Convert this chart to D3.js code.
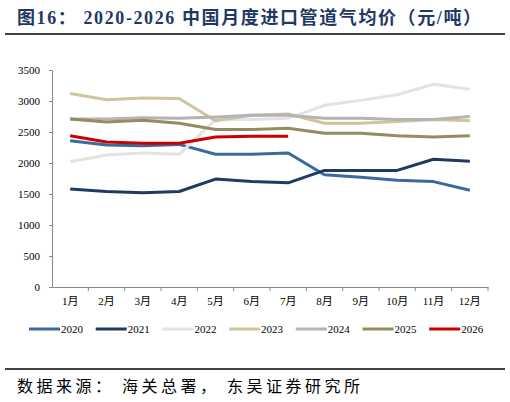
<!DOCTYPE html>
<html>
<head>
<meta charset="utf-8">
<script src="https://cdn.jsdelivr.net/npm/d3@7.9.0/dist/d3.min.js"></script>
<style>
  body { margin: 0; background: #fff; }
  text { font-family: "Liberation Serif", "Noto Sans CJK SC", serif; }
</style>
</head>
<body>
<svg id="chart" width="510" height="402"></svg>
<script>
// Data
const months = ['1月', '2月', '3月', '4月', '5月', '6月', '7月', '8月', '9月', '10月', '11月', '12月'];
const yTicks = [0, 500, 1000, 1500, 2000, 2500, 3000, 3500];
const years = ['2020', '2021', '2022', '2023', '2024', '2025', '2026'];
const s2020 = [2360, 2290, 2280, 2300, 2140, 2140, 2160, 1810, 1770, 1720, 1700, 1560];
const s2021 = [1580, 1540, 1520, 1540, 1740, 1700, 1680, 1880, 1880, 1880, 2060, 2030];
const s2022 = [2020, 2130, 2160, 2140, 2700, 2700, 2720, 2930, 3010, 3100, 3270, 3190];
const s2023 = [3120, 3020, 3050, 3040, 2680, 2770, 2790, 2640, 2640, 2670, 2700, 2680];
const s2024 = [2710, 2710, 2730, 2720, 2740, 2770, 2770, 2720, 2720, 2700, 2700, 2750];
const s2025 = [2710, 2660, 2690, 2640, 2540, 2540, 2560, 2480, 2480, 2440, 2420, 2440];
const s2026 = [2440, 2340, 2320, 2320, 2420, 2430, 2430];
const colors = ['#3b6aa0', '#1f3a63', '#e3e3e3', '#cfc59b', '#b4b4b4', '#958c5f', '#cc0000'];
const seriesList = [s2020, s2021, s2022, s2023, s2024, s2025, s2026];

const svg = d3.select('#chart');

// Title
svg.append('text')
  .attr('x', 17).attr('y', 24)
  .attr('font-size', 18).attr('font-weight', 'bold')
  .attr('letter-spacing', 1.6)
  .attr('fill', '#1f3864')
  .text('图16： 2020-2026 中国月度进口管道气均价（元/吨）');
svg.append('line').attr('x1', 5).attr('x2', 505).attr('y1', 34).attr('y2', 34)
  .attr('stroke', '#000').attr('stroke-width', 1.5);

// Scales
const x = d3.scaleBand().domain(months).range([52, 488]);
const y = d3.scaleLinear().domain([0, 3500]).range([287, 70]);

// Axes
const yAxis = svg.append('g')
  .attr('transform', 'translate(52,0)')
  .call(d3.axisLeft(y).tickValues(yTicks).tickFormat(d3.format('d')).tickSize(3).tickPadding(9));
yAxis.selectAll('text').attr('font-size', 11).attr('fill', '#000');
yAxis.selectAll('line, path').attr('stroke', '#888');

const xAxis = svg.append('g')
  .attr('transform', 'translate(0,287)')
  .call(d3.axisBottom(x).tickSize(0).tickPadding(10));
xAxis.selectAll('text').attr('font-size', 11).attr('fill', '#000');
xAxis.select('path').attr('stroke', '#888');
xAxis.selectAll('.sep')
  .data(months)
  .enter().append('line')
  .attr('x1', d => x(d) + x.bandwidth())
  .attr('x2', d => x(d) + x.bandwidth())
  .attr('y1', 0).attr('y2', 4)
  .attr('stroke', '#888');

// Lines
const line = d3.line()
  .x((d, i) => x(months[i]) + x.bandwidth() / 2)
  .y(d => y(d));

seriesList.forEach((s, i) => {
  svg.append('path')
    .datum(s)
    .attr('fill', 'none')
    .attr('stroke', colors[i])
    .attr('stroke-width', 3)
    .attr('stroke-linejoin', 'round')
    .attr('d', line);
});

// Legend
const legend = svg.append('g').attr('transform', 'translate(29,329)');
years.forEach((yr, i) => {
  const g = legend.append('g').attr('transform', `translate(${i * 66.7},0)`);
  g.append('line').attr('x1', 0).attr('x2', 31).attr('y1', 0).attr('y2', 0)
    .attr('stroke', colors[i]).attr('stroke-width', 3);
  g.append('text').attr('x', 32).attr('y', 4).attr('font-size', 11).text(yr);
});

// Source
svg.append('line').attr('x1', 5).attr('x2', 505).attr('y1', 369).attr('y2', 369)
  .attr('stroke', '#000').attr('stroke-width', 1.5);
svg.append('text')
  .attr('x', 17).attr('y', 392)
  .attr('font-size', 16)
  .attr('letter-spacing', 3.5)
  .text('数据来源： 海关总署， 东吴证券研究所');
</script>
</body>
</html>
